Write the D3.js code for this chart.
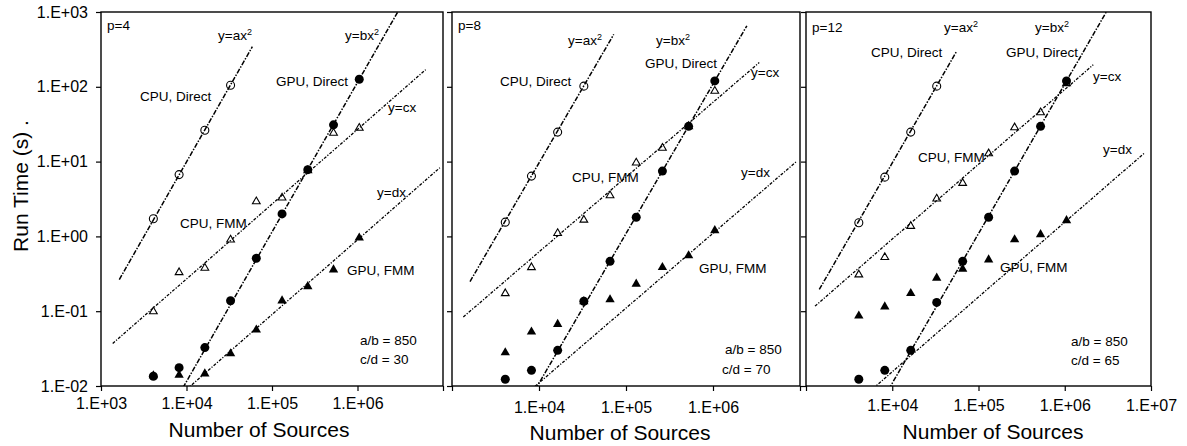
<!DOCTYPE html>
<html>
<head>
<meta charset="utf-8">
<script src="https://cdn.jsdelivr.net/npm/d3@7"></script>
<style>
body { margin: 0; background: #fff }
svg text { font-family: "Liberation Sans", Arial, sans-serif; fill: #000 }
.tick text { font-size: 16px }
.note { font-size: 13.5px }
.axis-title { font-size: 21px }
</style>
</head>
<body>
<svg id="chart" width="1187" height="446"></svg>
<script>
var sources = [4096, 8192, 16384, 32768, 65536, 131072, 262144, 524288, 1048576]

var cpuDirectP4 = [1.72, 6.7, 26.2, 105]
var gpuDirectP4 = [0.0135, 0.0176, 0.0326, 0.138, 0.51, 2.0, 7.8, 31, 126]
var cpuFmmP4 = [0.099, 0.33, 0.378, 0.90, 2.93, 3.28, 7.6, 24.1, 28.1]
var gpuFmmP4 = [0.0138, 0.0140, 0.0146, 0.0271, 0.0563, 0.138, 0.214, 0.359, 0.955]

var cpuDirectP8 = [1.55, 6.4, 24.8, 102]
var gpuDirectP8 = [0.0123, 0.0162, 0.030, 0.136, 0.464, 1.80, 7.46, 29.6, 120]
var cpuFmmP8 = [0.173, 0.385, 1.10, 1.66, 3.52, 9.66, 15.2, 29.6, 88]
var gpuFmmP8 = [0.0279, 0.053, 0.067, 0.135, 0.143, 0.231, 0.385, 0.553, 1.20]

var cpuDirectP12 = [1.52, 6.2, 24.8, 102]
var gpuDirectP12 = [0.0123, 0.0162, 0.030, 0.131, 0.464, 1.80, 7.46, 29.6, 120]
var cpuFmmP12 = [0.308, 0.525, 1.37, 3.18, 5.15, 12.8, 28.5, 45.3, 111]
var gpuFmmP12 = [0.0867, 0.1146, 0.173, 0.278, 0.367, 0.488, 0.906, 1.06, 1.63]

// fitted power laws, coefficient + range of sources the line is drawn over
var fitA = [9.9e-8, 9.6e-8, 9.6e-8]
var fitARange = [[1637, 58900], [1611, 72300], [1426, 55800]]
var fitB = [1.146e-10, 1.09e-10, 1.09e-10]
var fitBRange = [[8000, 3.0e6], [8000, 2.45e6], [8000, 3.1e6]]
var fitC = [2.7e-5, 6.2e-5, 9.2e-5]
var fitCRange = [[1370, 6.28e6], [1349, 3.4e6], [1271, 2.14e6]]
var fitD = [9.0e-7, 1.1e-6, 1.55e-6]
var fitDRange = [[10000, 9.2e6], [9000, 9.2e6], [6000, 8.5e6]]

var orders = ['p=4', 'p=8', 'p=12']
var ratioAB = [850, 850, 850]
var ratioCD = [30, 70, 65]

var xTicks = [1e3, 1e4, 1e5, 1e6, 1e7]
var xTickShown = [[1e3, 1e4, 1e5, 1e6], [1e4, 1e5, 1e6], [1e4, 1e5, 1e6, 1e7]]
var yTicks = [1e-2, 1e-1, 1e0, 1e1, 1e2, 1e3]

var TOP = 12
,   BOTTOM = 386

// frame + text placement for each panel (pixels)
var layout = [
  { left: 101, right: 443, pad: 7, titleX: 259, titleY: 437, notes: {
      order: [6, 30], ax: [117, 40], bx: [244, 40], cpuD: [39, 100.5], gpuD: [175, 86],
      cx: [287, 112], cpuF: [79, 228], dx: [276, 197], gpuF: [246, 275], ab: [259, 345], cd: [259, 364] } }
, { left: 452, right: 800, pad: 11, titleX: 620, titleY: 440, notes: {
      order: [6, 30], ax: [116, 45], bx: [204, 45], cpuD: [48, 86], gpuD: [193, 67.5],
      cx: [299, 77], cpuF: [120, 181.5], dx: [289, 177], gpuF: [247, 272.5], ab: [273, 354], cd: [270, 374] } }
, { left: 806, right: 1151, pad: 9, titleX: 993, titleY: 439, notes: {
      order: [6, 32], ax: [138, 32], bx: [229, 32], cpuD: [65, 57], gpuD: [200, 57],
      cx: [287, 81], cpuF: [112, 161.5], dx: [297, 154], gpuF: [194, 271.5], ab: [265, 346], cd: [265, 365] } }
]

var panelData = [
  { cpuD: cpuDirectP4, gpuD: gpuDirectP4, cpuF: cpuFmmP4, gpuF: gpuFmmP4 }
, { cpuD: cpuDirectP8, gpuD: gpuDirectP8, cpuF: cpuFmmP8, gpuF: gpuFmmP8 }
, { cpuD: cpuDirectP12, gpuD: gpuDirectP12, cpuF: cpuFmmP12, gpuF: gpuFmmP12 }
]

function expLabel(v) {
  var e = Math.round(Math.log10(v))
  return '1.E' + (e < 0 ? '-' : '+') + String(Math.abs(e)).padStart(2, '0')
}

function pts(values) {
  return values.map((v, i) => ({ n: sources[i], t: v }))
}

var svg = d3.select('#chart')

layout.forEach(function(lay, i) {
  var x = d3.scaleLog().domain([1e3, 1e7]).range([lay.left, lay.right])
  ,   y = d3.scaleLog().domain([1e-2, 1e3]).range([BOTTOM, TOP])
  ,   g = svg.append('g')
  ,   data = panelData[i]
  ,   shown = xTickShown[i]

  g.append('clipPath').attr('id', 'clip' + i)
    .append('rect')
    .attr('x', lay.left).attr('y', TOP)
    .attr('width', lay.right - lay.left).attr('height', BOTTOM - TOP)

  var xAxis = g.append('g')
    .attr('transform', 'translate(0,' + BOTTOM + ')')
    .call(d3.axisBottom(x).tickValues(xTicks).tickSize(5).tickPadding(lay.pad)
      .tickFormat((d) => shown.indexOf(d) >= 0 ? expLabel(d) : ''))
  var yAxis = g.append('g')
    .attr('transform', 'translate(' + lay.left + ',0)')
    .call(d3.axisLeft(y).tickValues(yTicks).tickSize(5).tickPadding(8)
      .tickFormat((d) => i === 0 ? expLabel(d) : ''))
  ;[xAxis, yAxis].forEach((a) => {
    a.attr('font-size', null).attr('font-family', null)
    a.select('.domain').remove()
    a.selectAll('.tick line').attr('stroke', '#000').attr('stroke-width', 1.2)
  })

  g.append('rect')
    .attr('x', lay.left).attr('y', TOP)
    .attr('width', lay.right - lay.left).attr('height', BOTTOM - TOP)
    .attr('fill', 'none').attr('stroke', '#000').attr('stroke-width', 1.4)

  // fitted lines
  var fits = [
    { k: fitA[i], p: 2, r: fitARange[i], dash: '5,1.5,1.5,1.5' }
  , { k: fitB[i], p: 2, r: fitBRange[i], dash: '5,1.5,1.5,1.5' }
  , { k: fitC[i], p: 1, r: fitCRange[i], dash: '3,1.5,1.2,1.5' }
  , { k: fitD[i], p: 1, r: fitDRange[i], dash: '3,1.5,1.2,1.5' }
  ]
  var line = d3.line().x((d) => x(d[0])).y((d) => y(d[1]))
  g.append('g').attr('clip-path', 'url(#clip' + i + ')')
    .selectAll('path')
    .data(fits)
    .enter()
    .append('path')
    .attr('d', (f) => line(f.r.map((n) => [n, f.k * Math.pow(n, f.p)])))
    .attr('fill', 'none')
    .attr('stroke', '#000')
    .attr('stroke-width', (f) => f.p === 2 ? 1.5 : 1.3)
    .attr('stroke-dasharray', (f) => f.dash)

  var marks = g.append('g')
  ,   tri = d3.symbol().type(d3.symbolTriangle)

  marks.selectAll('.cpu-direct')
    .data(pts(data.cpuD))
    .enter()
    .append('circle')
    .attr('class', 'cpu-direct')
    .attr('cx', (d) => x(d.n)).attr('cy', (d) => y(d.t))
    .attr('r', 4)
    .attr('fill', 'none').attr('stroke', '#000').attr('stroke-width', 1.1)

  marks.selectAll('.cpu-fmm')
    .data(pts(data.cpuF))
    .enter()
    .append('path')
    .attr('class', 'cpu-fmm')
    .attr('d', tri.size(26)())
    .attr('transform', (d) => 'translate(' + x(d.n) + ',' + y(d.t) + ')')
    .attr('fill', 'none').attr('stroke', '#000').attr('stroke-width', 1.1)

  marks.selectAll('.gpu-fmm')
    .data(pts(data.gpuF))
    .enter()
    .append('path')
    .attr('class', 'gpu-fmm')
    .attr('d', tri.size(38)())
    .attr('transform', (d) => 'translate(' + x(d.n) + ',' + y(d.t) + ')')
    .attr('fill', '#000')

  marks.selectAll('.gpu-direct')
    .data(pts(data.gpuD))
    .enter()
    .append('circle')
    .attr('class', 'gpu-direct')
    .attr('cx', (d) => x(d.n)).attr('cy', (d) => y(d.t))
    .attr('r', 4.5)
    .attr('fill', '#000')

  // annotations
  var nt = lay.notes
  function note(pos, txt, sup) {
    var t = g.append('text').attr('class', 'note')
      .attr('x', lay.left + pos[0]).attr('y', pos[1])
      .text(txt)
    if (sup) t.append('tspan').attr('dy', -5).attr('font-size', 9).text(sup)
    return t
  }
  note(nt.order, orders[i])
  note(nt.ax, 'y=ax', '2')
  note(nt.bx, 'y=bx', '2')
  note(nt.cpuD, 'CPU, Direct')
  note(nt.gpuD, 'GPU, Direct')
  note(nt.cx, 'y=cx')
  note(nt.cpuF, 'CPU, FMM')
  note(nt.dx, 'y=dx')
  note(nt.gpuF, 'GPU, FMM')
  note(nt.ab, 'a/b = ' + ratioAB[i])
  note(nt.cd, 'c/d = ' + ratioCD[i])

  g.append('text')
    .attr('class', 'axis-title')
    .attr('x', lay.titleX).attr('y', lay.titleY)
    .attr('text-anchor', 'middle')
    .text('Number of Sources')
})

svg.append('text')
  .attr('class', 'axis-title')
  .attr('transform', 'translate(28,186) rotate(-90)')
  .attr('text-anchor', 'middle')
  .text('Run Time (s) .')
</script>
</body>
</html>
